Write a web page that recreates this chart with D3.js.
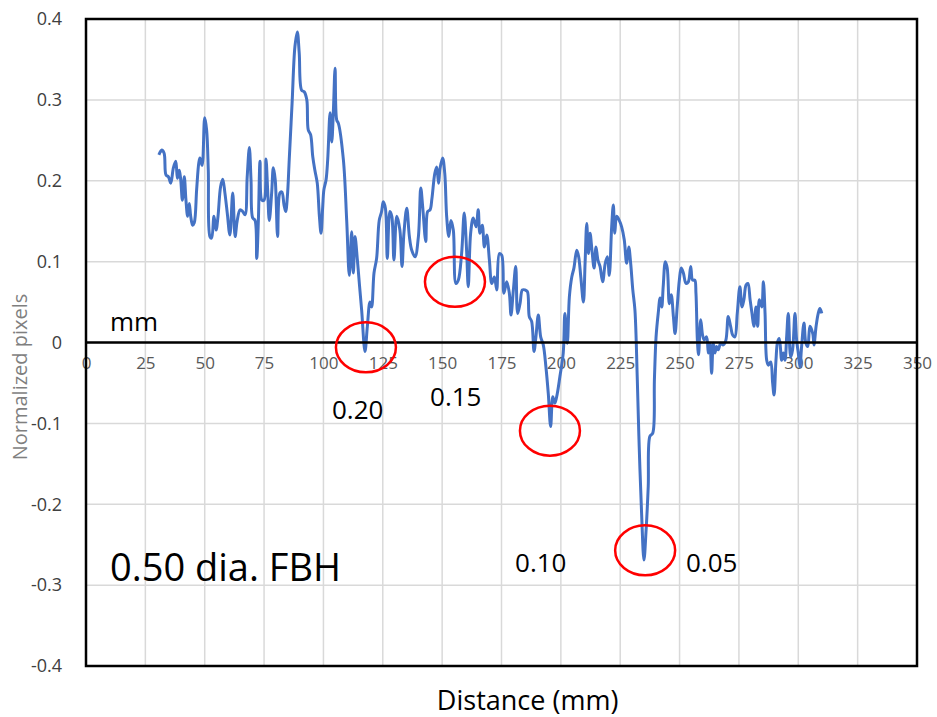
<!DOCTYPE html>
<html>
<head>
<meta charset="utf-8">
<style>
  body { margin: 0; background: #fff; }
  text { font-family: "Open Sans", "Noto Sans", sans-serif; }
</style>
</head>
<body>
<svg width="937" height="717"></svg>
<script src="https://cdn.jsdelivr.net/npm/d3@7"></script>
<script>

// distance (mm) and normalized pixel values
var distance = [30.7,31.9,32.9,33.7,34.7,35.7,36.8,37.8,38.5,39.3,39.9,40.6,41.4,42.1,42.8,43.5,44.1,44.9,45.6,46.6,
  47.5,48.0,48.9,50.0,50.8,51.5,52.2,52.9,53.9,54.8,55.6,56.7,57.6,58.5,59.5,60.6,61.8,62.8,63.7,64.9,
  66.0,67.0,67.9,68.8,69.5,70.2,71.2,71.9,72.6,73.3,74.1,75.0,75.8,76.5,77.2,78.2,78.9,79.7,80.7,81.7,
  82.5,83.4,84.1,84.8,85.6,86.8,88.0,89.0,89.8,90.8,91.9,93.0,93.6,94.6,95.5,96.4,97.4,98.3,99.0,99.7,
  100.2,101.1,101.8,102.8,103.5,104.2,104.9,105.6,106.3,108.4,109.8,110.9,111.9,112.6,113.3,114.3,115.1,116.1,117.5,118.5,
  119.6,120.3,121.3,122.4,123.5,124.5,125.2,126.1,126.9,128.0,128.8,129.7,130.9,132.2,133.1,133.9,135.1,136.2,137.2,138.6,
  140.0,141.0,141.8,143.1,143.9,144.9,145.7,146.9,147.7,148.5,149.1,150.2,151.1,151.9,152.8,153.7,154.7,155.8,156.8,158.2,
  159.3,160.3,161.0,162.0,163.1,164.3,165.2,165.9,166.9,167.8,168.8,169.9,170.9,172.0,173.0,174.1,175.1,176.0,177.2,178.3,
  179.0,180.0,181.0,181.8,182.8,183.8,184.9,185.9,186.7,187.7,188.7,189.5,190.5,191.5,192.6,193.7,194.7,195.7,196.6,197.5,
  198.5,199.6,201.0,201.7,202.7,203.6,204.6,205.5,206.7,207.5,208.4,209.5,210.2,210.9,211.6,212.3,213.1,214.0,214.8,215.6,
  216.5,217.6,218.7,219.6,220.4,221.4,222.1,222.7,223.5,224.6,225.6,226.7,227.7,228.6,229.4,230.3,231.2,232.2,233.0,234.0,
  235.0,235.9,236.8,237.5,238.7,239.4,240.1,241.0,241.8,242.5,243.1,244.0,244.8,245.7,246.5,247.4,248.1,249.0,249.9,250.7,
  251.6,252.7,253.7,254.7,255.5,256.4,256.9,257.5,258.0,258.9,259.7,260.4,261.4,262.1,262.8,263.5,264.2,264.9,265.6,266.3,
  267.3,268.4,269.5,270.5,271.5,272.4,273.3,274.3,275.4,276.3,277.1,278.0,278.8,279.7,280.5,281.3,282.2,282.9,283.6,284.6,
  285.3,286.0,286.7,287.4,288.4,289.2,289.8,290.6,291.3,292.0,293.0,293.7,294.4,295.1,295.8,296.8,297.6,298.6,299.3,300.0,
  300.7,301.4,302.4,303.2,304.0,304.9,306.1,306.6,307.5,308.4,309.1,309.9];

var pixels = [0.232,0.238,0.234,0.207,0.205,0.197,0.216,0.224,0.203,0.213,0.201,0.176,0.205,0.176,0.156,0.172,0.156,0.145,0.148,0.189,
  0.222,0.228,0.219,0.278,0.263,0.213,0.131,0.129,0.156,0.139,0.156,0.193,0.202,0.185,0.160,0.133,0.185,0.131,0.151,0.164,
  0.162,0.158,0.205,0.241,0.201,0.154,0.151,0.104,0.151,0.224,0.176,0.176,0.227,0.189,0.151,0.185,0.216,0.201,0.131,0.185,
  0.186,0.170,0.162,0.180,0.226,0.296,0.366,0.384,0.358,0.312,0.310,0.300,0.263,0.257,0.230,0.213,0.197,0.156,0.135,0.168,
  0.189,0.201,0.226,0.284,0.248,0.287,0.339,0.275,0.271,0.226,0.151,0.083,0.137,0.086,0.131,0.102,0.074,0.040,-0.011,0.020,
  0.050,0.044,0.086,0.104,0.151,0.162,0.174,0.166,0.104,0.162,0.156,0.102,0.156,0.139,0.094,0.135,0.166,0.131,0.114,0.106,
  0.131,0.191,0.168,0.125,0.162,0.164,0.178,0.209,0.217,0.197,0.215,0.228,0.209,0.156,0.131,0.151,0.139,0.073,0.077,0.110,
  0.160,0.114,0.069,0.135,0.154,0.143,0.164,0.135,0.145,0.118,0.133,0.102,0.073,0.081,0.065,0.110,0.108,0.061,0.075,0.061,
  0.034,0.065,0.094,0.036,0.048,0.065,0.065,0.063,0.032,0.026,-0.011,0.007,0.034,0.007,-0.003,-0.030,-0.063,-0.104,-0.067,-0.075,
  -0.063,-0.042,-0.013,0.036,-0.001,0.057,0.081,0.092,0.114,0.106,0.081,0.050,0.098,0.147,0.110,0.135,0.114,0.092,0.118,0.102,
  0.094,0.075,0.098,0.106,0.083,0.143,0.170,0.135,0.156,0.151,0.143,0.127,0.098,0.118,0.098,0.065,0.040,-0.046,-0.129,-0.211,
  -0.269,-0.232,-0.178,-0.116,-0.112,-0.046,0.007,0.036,0.055,0.044,0.069,0.100,0.092,0.048,0.059,0.032,0.011,0.044,0.077,0.092,
  0.086,0.073,0.075,0.094,0.077,0.077,0.061,0.003,-0.015,0.028,0.009,0.003,0.007,-0.013,-0.001,-0.038,-0.001,-0.013,-0.005,-0.009,
  -0.001,-0.003,0.003,0.032,0.020,0.009,0.007,0.036,0.069,0.044,0.053,0.071,0.073,0.053,0.036,0.020,0.044,0.020,0.053,0.044,
  0.075,0.036,-0.022,-0.028,-0.024,-0.050,-0.065,-0.022,0.001,0.005,-0.022,-0.013,-0.022,0.007,0.036,-0.018,-0.009,0.036,0.003,-0.013,
  -0.030,-0.005,0.024,-0.001,-0.005,0.020,0.011,-0.003,0.020,0.036,0.042,0.036];

var xTicks = [0, 25, 50, 75, 100, 125, 150, 175, 200, 225, 250, 275, 300, 325, 350];
var yTicks = [0.4, 0.3, 0.2, 0.1, 0, -0.1, -0.2, -0.3, -0.4];

// circled flaws (centre in data units) and their depth labels
var circleX = [117.9, 155.4, 195.4, 235.5];
var circleY = [-0.006, 0.075, -0.109, -0.257];
var noteText = ["mm", "0.20", "0.15", "0.10", "0.05"];
var noteX = [10.1, 103.6, 144.9, 180.7, 252.7];
var noteY = [0.025, -0.083, -0.067, -0.273, -0.273];

var svg = d3.select("svg"),
    margin = {top: 19, right: 20, bottom: 51, left: 86},
    width = 937 - margin.left - margin.right,
    height = 717 - margin.top - margin.bottom;

var x = d3.scaleLinear().domain([0, 350]).range([0, width]);
var y = d3.scaleLinear().domain([-0.4, 0.4]).range([height, 0]);

var g = svg.append("g")
    .attr("transform", "translate(" + margin.left + "," + margin.top + ")");

// grid
g.append("g")
    .attr("stroke", "#d9d9d9")
    .attr("stroke-width", 1.5)
  .selectAll("line")
  .data(xTicks.slice(1, -1))
  .enter().append("line")
    .attr("x1", x).attr("x2", x)
    .attr("y1", 0).attr("y2", height);

g.append("g")
    .attr("stroke", "#d9d9d9")
    .attr("stroke-width", 1.5)
  .selectAll("line")
  .data(yTicks.slice(1, -1))
  .enter().append("line")
    .attr("y1", y).attr("y2", y)
    .attr("x1", 0).attr("x2", width);

// x tick labels sit under the zero line
var xAxis = g.append("g")
    .attr("transform", "translate(0," + y(0) + ")")
    .call(d3.axisBottom(x).tickValues(xTicks).tickSize(0).tickPadding(14));
xAxis.select(".domain").remove();
xAxis.selectAll("text")
    .attr("fill", "#595959")
    .style("font-size", "17px");

var yAxis = g.append("g")
    .call(d3.axisLeft(y).tickValues(yTicks).tickSize(0).tickPadding(24)
      .tickFormat(function(d) { return d === 0 ? "0" : d.toFixed(1); }));
yAxis.select(".domain").remove();
yAxis.selectAll("text")
    .attr("fill", "#404040")
    .style("font-size", "18px");

// line
var line = d3.line()
    .curve(d3.curveCatmullRom.alpha(0.5))
    .x(function(d, i) { return x(distance[i]); })
    .y(function(d) { return y(d); });

g.append("path")
    .datum(pixels)
    .attr("fill", "none")
    .attr("stroke", "#4472c4")
    .attr("stroke-width", 3)
    .attr("stroke-linejoin", "round")
    .attr("d", line);

// zero line and frame
g.append("line")
    .attr("x1", 0).attr("x2", width)
    .attr("y1", y(0)).attr("y2", y(0))
    .attr("stroke", "#000").attr("stroke-width", 2.5);

g.append("rect")
    .attr("width", width).attr("height", height)
    .attr("fill", "none")
    .attr("stroke", "#000").attr("stroke-width", 2.5);

// circles
g.selectAll("ellipse")
  .data(circleX)
  .enter().append("ellipse")
    .attr("cx", function(d) { return x(d); })
    .attr("cy", function(d, i) { return y(circleY[i]); })
    .attr("rx", 30).attr("ry", 25)
    .attr("fill", "none")
    .attr("stroke", "#ff0000")
    .attr("stroke-width", 2.5);

// notes
g.selectAll("text.note")
  .data(noteText)
  .enter().append("text")
    .attr("class", "note")
    .attr("x", function(d, i) { return x(noteX[i]); })
    .attr("y", function(d, i) { return y(noteY[i]); })
    .attr("dy", "0.35em")
    .attr("fill", "#000")
    .style("font-size", "26px")
    .text(function(d) { return d; });

g.append("text")
    .attr("x", x(10.1))
    .attr("y", y(-0.279))
    .attr("dy", "0.35em")
    .style("font-size", "38px")
    .text("0.50 dia. FBH");

// axis titles
svg.append("text")
    .attr("x", margin.left + x(186))
    .attr("y", 701)
    .attr("dy", "0.35em")
    .attr("text-anchor", "middle")
    .style("font-size", "27px")
    .text("Distance (mm)");

svg.append("text")
    .attr("transform", "translate(20,377) rotate(-90)")
    .attr("dy", "0.35em")
    .attr("text-anchor", "middle")
    .attr("fill", "#7f7f7f")
    .style("font-size", "20px")
    .text("Normalized pixels");

</script>
</body>
</html>
